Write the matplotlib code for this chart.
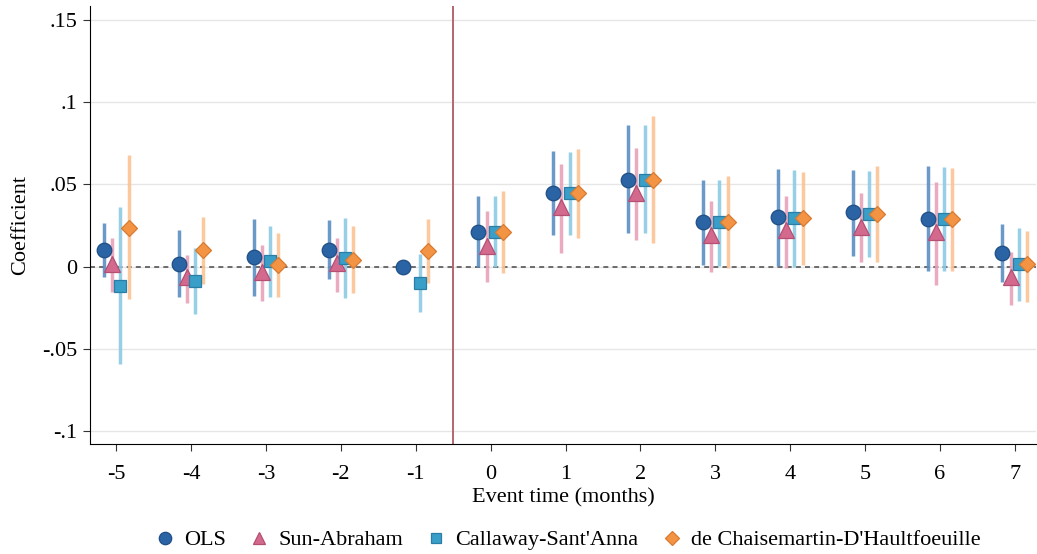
import numpy as np
import matplotlib
matplotlib.use("Agg")
import matplotlib.pyplot as plt
from matplotlib.lines import Line2D

plt.rcParams["font.family"] = ["Liberation Serif", "DejaVu Serif"]

event_time = [-5, -4, -3, -2, -1, 0, 1, 2, 3, 4, 5, 6, 7]

# OLS
ols_b = [0.0104, 0.0016, 0.0057, 0.0104, 0.0, 0.0209, 0.0447, 0.0530, 0.0270, 0.0301, 0.0331, 0.0291, 0.0081]
ols_lo = [-0.0061, -0.0187, -0.0177, -0.0075, np.nan, -0.0004, 0.0193, 0.0205, 0.0012, 0.0002, 0.0067, -0.0024, -0.0096]
ols_hi = [0.0267, 0.0224, 0.0291, 0.0285, np.nan, 0.0433, 0.0701, 0.0860, 0.0530, 0.0596, 0.0589, 0.0610, 0.0260]

# Sun-Abraham (no estimate at -1)
sa_b = [0.0016, -0.0065, -0.0035, 0.0020, np.nan, 0.0128, 0.0362, 0.0447, 0.0193, 0.0220, 0.0244, 0.0209, -0.0065]
sa_lo = [-0.0157, -0.0221, -0.0211, -0.0157, np.nan, -0.0096, 0.0083, 0.0163, -0.0030, -0.0008, 0.0026, -0.0112, -0.0234]
sa_hi = [0.0175, 0.0071, 0.0134, 0.0175, np.nan, 0.0341, 0.0626, 0.0724, 0.0402, 0.0429, 0.0447, 0.0514, 0.0087]

# Callaway-Sant'Anna
cs_b = [-0.0116, -0.0089, 0.0037, 0.0053, -0.0100, 0.0213, 0.0447, 0.0530, 0.0270, 0.0297, 0.0321, 0.0291, 0.0016]
cs_lo = [-0.0593, -0.0289, -0.0183, -0.0193, -0.0279, 0.0, 0.0193, 0.0205, 0.0006, 0.0, 0.0057, -0.0028, -0.0207]
cs_hi = [0.0362, 0.0112, 0.0250, 0.0295, 0.0077, 0.0433, 0.0697, 0.0860, 0.0530, 0.0591, 0.0581, 0.0606, 0.0236]

# de Chaisemartin-D'Haultfoeuille
dc_b = [0.0238, 0.0100, 0.0008, 0.0043, 0.0098, 0.0213, 0.0447, 0.0530, 0.0270, 0.0297, 0.0321, 0.0291, 0.0016]
dc_lo = [-0.0197, -0.0106, -0.0187, -0.0163, -0.0100, -0.0039, 0.0173, 0.0145, -0.0010, 0.0012, 0.0026, -0.0028, -0.0218]
dc_hi = [0.0677, 0.0301, 0.0205, 0.0248, 0.0291, 0.0463, 0.0718, 0.0917, 0.0549, 0.0575, 0.0610, 0.0602, 0.0215]

series = [
    ("OLS", ols_b, ols_lo, ols_hi, -0.165, "o", 10.5, "#2a64a4", "#1f4e86", "#5b8fc4"),
    ("Sun-Abraham", sa_b, sa_lo, sa_hi, -0.055, "^", 11, "#d4698e", "#b44f74", "#e8a2ba"),
    ("Callaway-Sant'Anna", cs_b, cs_lo, cs_hi, 0.055, "s", 8.5, "#3a9fc8", "#2a7ea6", "#8ccbe4"),
    ("de Chaisemartin-D'Haultfoeuille", dc_b, dc_lo, dc_hi, 0.165, "D", 8.5, "#f39445", "#d97a30", "#fbc393"),
]

FS = 16

fig = plt.figure(figsize=(10.37, 5.54), dpi=100)
ax = fig.add_axes([0.0868, 0.1986, 0.912, 0.79])

ax.axhline(0, color="#555555", linestyle=(0, (3, 2.5)), linewidth=1.2, zorder=1)
ax.axvline(-0.5, color="#b56670", linewidth=1.4, zorder=1)

x = np.array(event_time, dtype=float)
handles = []
for name, b, lo, hi, off, mk, ms, fc, ec, bc in series:
    xs = x + off
    ax.vlines(xs, lo, hi, color=bc, linewidth=2.5, alpha=0.9, zorder=2)
    ax.plot(xs, b, linestyle="none", marker=mk, markersize=ms, markerfacecolor=fc,
            markeredgecolor=ec, markeredgewidth=0.9, zorder=3)
    handles.append(Line2D([], [], linestyle="none", marker=mk, markersize=ms * 0.85,
                          markerfacecolor=fc, markeredgecolor=ec, markeredgewidth=0.9, label=name))

ax.set_xlim(-5.35, 7.28)
ax.set_ylim(-0.108, 0.1585)
ax.set_xticks(event_time)
ax.set_xticklabels([str(t) for t in event_time])
yt = [-0.1, -0.05, 0, 0.05, 0.1, 0.15]
ax.set_yticks(yt)
ax.set_yticklabels(["-.1", "-.05", "0", ".05", ".1", ".15"])
ax.yaxis.grid(True, color="#e6e6e6", linewidth=1.0, zorder=0)
ax.set_axisbelow(True)
ax.spines["top"].set_visible(False)
ax.spines["right"].set_visible(False)
ax.tick_params(axis="both", labelsize=FS, length=5, direction="out", color="#333333")
ax.tick_params(axis="x", pad=10)
ax.tick_params(axis="y", pad=4)
ax.set_xlabel("Event time (months)", fontsize=FS, labelpad=3)
ax.set_ylabel("Coefficient", fontsize=FS, labelpad=9)

fig.legend(handles=handles, loc="center", bbox_to_anchor=(0.547, 0.025), ncol=4,
           frameon=False, fontsize=FS, handletextpad=0.35, columnspacing=1.0, handlelength=1.0)

fig.savefig("out.png", dpi=100)
